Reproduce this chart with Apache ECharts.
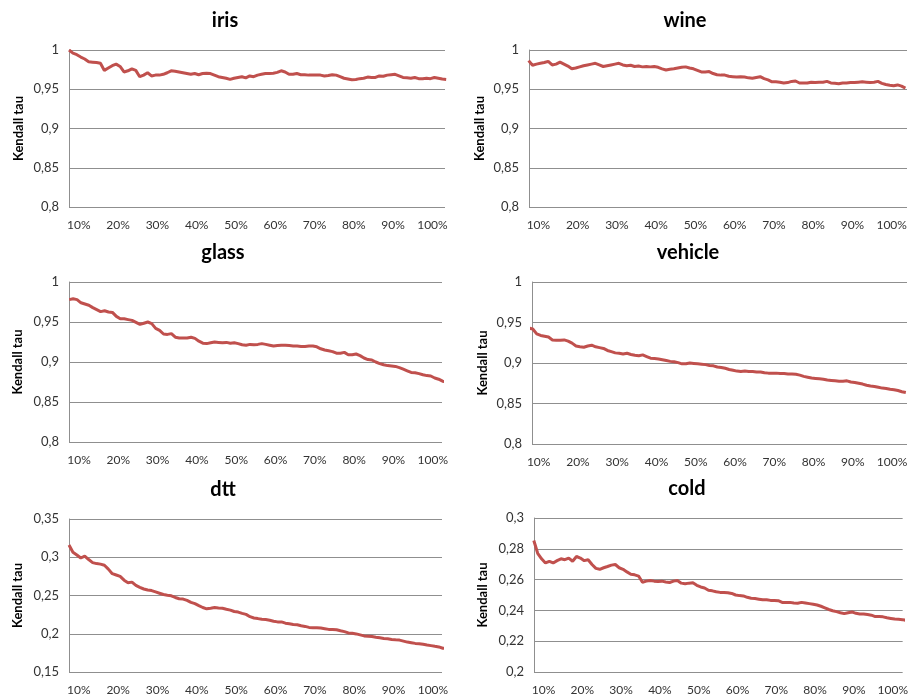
<!DOCTYPE html>
<html>
<head>
<meta charset="utf-8">
<script src="https://cdn.jsdelivr.net/npm/echarts@6/dist/echarts.min.js"></script>
<style>
html,body{margin:0;padding:0;background:#fff;}
#main{width:911px;height:696px;}
</style>
</head>
<body>
<div id="main"></div>
<script>
// sample positions (% of data), shared by all panels
var samplePct = [];
for (var i = 0; i <= 96; i++) samplePct.push(7.5 + i);

var xTickLabels = [10, 20, 30, 40, 50, 60, 70, 80, 90, 100];
var titles = ['iris', 'wine', 'glass', 'vehicle', 'dtt', 'cold'];

var iris = [
1.000,0.996,0.994,0.991,0.9885,0.985,0.9845,0.984,0.983,0.974,
0.977,0.980,0.982,0.979,0.972,0.9735,0.976,0.974,0.966,0.968,
0.971,0.967,0.968,0.968,0.969,0.971,0.9735,0.973,0.972,0.971,
0.970,0.969,0.970,0.9685,0.970,0.9705,0.970,0.968,0.966,0.965,
0.964,0.9625,0.964,0.965,0.966,0.9645,0.967,0.966,0.968,0.969,
0.970,0.970,0.9705,0.9715,0.9735,0.972,0.969,0.969,0.970,0.9685,
0.9685,0.968,0.968,0.968,0.968,0.967,0.9675,0.9685,0.968,0.966,
0.964,0.963,0.962,0.9625,0.9635,0.964,0.9655,0.965,0.965,0.967,
0.9665,0.968,0.9685,0.969,0.967,0.965,0.9645,0.964,0.965,0.9635,
0.9635,0.964,0.9635,0.965,0.964,0.963,0.9625];

var wine = [
0.9865,0.9805,0.982,0.983,0.984,0.9855,0.981,0.982,0.9845,0.982,
0.9795,0.976,0.977,0.9785,0.980,0.981,0.982,0.983,0.981,0.979,
0.980,0.981,0.982,0.983,0.981,0.980,0.9805,0.979,0.9795,0.9785,
0.979,0.9785,0.979,0.978,0.976,0.9745,0.9755,0.976,0.977,0.978,
0.9785,0.977,0.976,0.974,0.972,0.972,0.9725,0.970,0.9685,0.968,
0.968,0.9665,0.966,0.9655,0.966,0.9655,0.9645,0.964,0.965,0.966,
0.9635,0.962,0.9595,0.9595,0.959,0.958,0.9585,0.960,0.9605,0.958,
0.958,0.958,0.959,0.9585,0.959,0.959,0.960,0.958,0.9575,0.957,
0.958,0.958,0.9585,0.9585,0.959,0.9595,0.959,0.9585,0.959,0.960,
0.9575,0.956,0.955,0.9545,0.9555,0.954,0.9515];

var glass = [
0.978,0.979,0.978,0.974,0.9725,0.971,0.968,0.9655,0.963,0.964,
0.9625,0.962,0.957,0.954,0.954,0.953,0.952,0.9495,0.947,0.9485,
0.950,0.948,0.942,0.9395,0.935,0.9345,0.9355,0.931,0.930,0.930,
0.930,0.931,0.9295,0.926,0.9235,0.923,0.924,0.925,0.9245,0.924,
0.9245,0.9235,0.924,0.923,0.9215,0.921,0.922,0.9215,0.922,0.923,
0.922,0.921,0.920,0.9205,0.921,0.921,0.9205,0.920,0.920,0.9195,
0.9195,0.920,0.920,0.919,0.9165,0.915,0.914,0.913,0.911,0.911,
0.912,0.909,0.909,0.910,0.908,0.905,0.903,0.9025,0.900,0.898,
0.8965,0.8955,0.895,0.8945,0.893,0.891,0.889,0.887,0.8865,0.8855,
0.884,0.883,0.8825,0.880,0.8785,0.876,0.875];

var vehicle = [
0.943,0.942,0.936,0.934,0.933,0.932,0.9285,0.928,0.928,0.9285,
0.927,0.9245,0.921,0.920,0.9195,0.921,0.922,0.920,0.919,0.918,
0.9155,0.914,0.9125,0.912,0.911,0.912,0.9105,0.9095,0.909,0.910,
0.908,0.906,0.9055,0.905,0.904,0.903,0.902,0.9015,0.9005,0.899,
0.899,0.900,0.8995,0.899,0.8985,0.898,0.897,0.8965,0.895,0.8945,
0.8935,0.892,0.891,0.890,0.8895,0.890,0.8895,0.8895,0.889,0.889,
0.888,0.8875,0.8875,0.8875,0.887,0.887,0.8865,0.8865,0.886,0.885,
0.8835,0.8825,0.8815,0.881,0.8805,0.880,0.879,0.8785,0.878,0.8775,
0.8775,0.878,0.8765,0.876,0.875,0.874,0.8725,0.8715,0.871,0.870,
0.869,0.8685,0.8675,0.867,0.866,0.8645,0.8635];

var dtt = [
0.316,0.3066,0.303,0.299,0.3015,0.297,0.293,0.2917,0.291,0.2896,
0.2845,0.2785,0.2768,0.275,0.270,0.2666,0.2675,0.2632,0.2606,0.2585,
0.2572,0.2564,0.2547,0.253,0.2513,0.2504,0.2496,0.2474,0.2457,0.2453,
0.2436,0.241,0.2394,0.2368,0.2343,0.2326,0.2334,0.2343,0.2338,0.2334,
0.2321,0.2309,0.2291,0.2283,0.2266,0.2253,0.2223,0.2206,0.2198,0.2189,
0.2185,0.2177,0.2164,0.2155,0.2155,0.2138,0.213,0.2121,0.2117,0.2104,
0.2096,0.2083,0.2079,0.2079,0.2074,0.2066,0.2057,0.2057,0.2053,0.204,
0.2028,0.2011,0.2006,0.1998,0.1985,0.1972,0.1968,0.1964,0.1955,0.1947,
0.1938,0.1934,0.1926,0.1921,0.1917,0.1904,0.1891,0.1883,0.1874,0.187,
0.1862,0.1853,0.1845,0.1836,0.1828,0.1811,0.181];

var cold = [
0.2854,0.2771,0.2735,0.2708,0.2719,0.2708,0.2723,0.2735,0.2729,0.274,
0.2719,0.275,0.274,0.2723,0.2729,0.2698,0.2673,0.2667,0.2677,0.2685,
0.2694,0.2698,0.2677,0.2667,0.265,0.2635,0.2631,0.2623,0.2583,0.259,
0.2594,0.259,0.2588,0.259,0.2585,0.2581,0.259,0.2594,0.2577,0.2573,
0.2577,0.2579,0.2563,0.2552,0.2546,0.2531,0.2527,0.2521,0.2517,0.2517,
0.2515,0.251,0.25,0.2496,0.2494,0.2485,0.2479,0.2477,0.2473,0.2469,
0.2469,0.2465,0.2465,0.2463,0.2452,0.2452,0.2452,0.2448,0.2446,0.2452,
0.2448,0.2444,0.244,0.2435,0.2427,0.2417,0.2406,0.2398,0.2392,0.2385,
0.2379,0.2385,0.239,0.2381,0.2377,0.2377,0.2373,0.2369,0.236,0.236,
0.2358,0.2352,0.2348,0.2344,0.2342,0.234,0.2335];

var seriesValues = [iris, wine, glass, vehicle, dtt, cold];
var yRanges = [[0.8,1,0.05],[0.8,1,0.05],[0.8,1,0.05],[0.8,1,0.05],[0.15,0.35,0.05],[0.2,0.3,0.02]];

// layout (pixels)
var grids = [
  {left:69, top:50, width:376, height:157},
  {left:529, top:50, width:378, height:157},
  {left:69, top:282, width:373, height:160},
  {left:532, top:282, width:375, height:162},
  {left:69, top:519, width:373, height:157},
  {left:534, top:518, width:373, height:160}
];
var xRanges = [[7.5,103.2],[7.6,103.9],[7.45,102.35],[8.3,103.8],[7.5,102.3],[7.55,102.55]];
var titlePos = [[225,11],[685,11],[223,243],[688,243],[223,480],[687,479]];
var nameGaps = [44,43,45,43,45,45];

var FONT = 'Lato, "Open Sans", sans-serif';
var GRID_COLOR = '#8f8f8f';

var option = {
  backgroundColor:'#fff',
  animation:false,
  title: titles.map(function(t,i){
    return {text:t, left:titlePos[i][0], top:titlePos[i][1], textAlign:'center', padding:0,
      textStyle:{fontFamily:FONT, fontWeight:'bold', fontSize:20, color:'#000'}};
  }),
  grid: grids.map(function(g){ return Object.assign({containLabel:false}, g); }),
  xAxis: grids.map(function(g,i){
    return {type:'value', gridIndex:i, min:xRanges[i][0], max:xRanges[i][1],
      axisLine:{show:false}, axisTick:{show:false}, splitLine:{show:false},
      axisLabel:{customValues:xTickLabels, formatter:function(v){return Math.round(v)+'%';},
        fontFamily:FONT, fontSize:12, color:'#333', margin:12, showMinLabel:true, showMaxLabel:true}};
  }),
  yAxis: grids.map(function(g,i){
    return {type:'value', gridIndex:i, min:yRanges[i][0], max:yRanges[i][1], interval:yRanges[i][2],
      name:'Kendall tau', nameLocation:'middle', nameRotate:90, nameGap:nameGaps[i],
      nameTextStyle:{fontFamily:FONT, fontWeight:'bold', fontSize:13, color:'#000'},
      axisLine:{show:true, lineStyle:{color:GRID_COLOR, width:1}},
      axisTick:{show:false},
      splitLine:{show:true, lineStyle:{color:GRID_COLOR, width:1}},
      axisLabel:{fontFamily:FONT, fontSize:13, color:'#333', margin:10,
        formatter:function(v){return String(+v.toFixed(4)).replace('.', ',');}}};
  }),
  series: seriesValues.map(function(vals,i){
    return {type:'line', xAxisIndex:i, yAxisIndex:i, showSymbol:false, symbol:'none',
      clip:true, lineStyle:{color:'#C0504D', width:3}, itemStyle:{color:'#C0504D'},
      data: vals.map(function(v,k){ return [samplePct[k], v]; })};
  })
};

var chart = echarts.init(document.getElementById('main'), null, {renderer:'canvas'});
chart.setOption(option);
</script>
</body>
</html>
